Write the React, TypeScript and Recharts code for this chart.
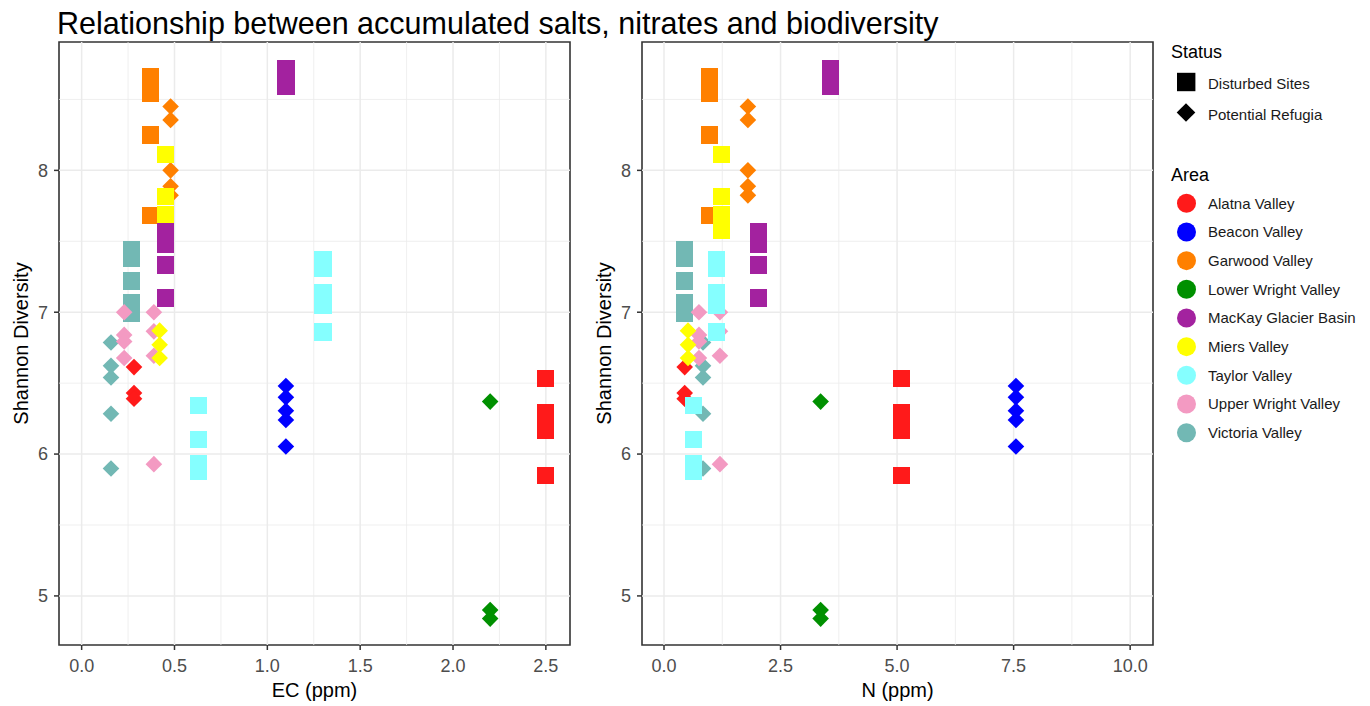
import React from 'react';
import { ScatterChart, Scatter, XAxis, YAxis, ReferenceLine, ReferenceArea } from 'recharts';

const chartTitle = 'Relationship between accumulated salts, nitrates and biodiversity';
const areaNames = ['Alatna Valley', 'Beacon Valley', 'Garwood Valley', 'Lower Wright Valley', 'MacKay Glacier Basin', 'Miers Valley', 'Taylor Valley', 'Upper Wright Valley', 'Victoria Valley'];
const areaColors = ['#FF1A1A', '#0000FF', '#FF8000', '#009000', '#A3229F', '#FFFF00', '#85FFFF', '#F39AC2', '#72B8B4'];
const statusNames = ['Disturbed Sites', 'Potential Refugia'];

// per-site values, listed in drawing order (area index, status index 0 = disturbed, 1 = refugia)
const siteArea = [
  8, 8, 8, 8, 8,
  8, 8, 8, 8, 8,
  7, 7, 7, 7, 7, 7, 7, 7,
  0, 0, 0,
  0, 0, 0, 0,
  2, 2, 2, 2,
  2, 2, 2, 2, 2,
  5, 5, 5, 5,
  5, 5, 5,
  4, 4, 4, 4, 4, 4, 4,
  6, 6, 6, 6, 6, 6, 6, 6, 6,
  1, 1, 1, 1, 1,
  3, 3, 3,
];
const siteStatus = [
  0, 0, 0, 0, 0,
  1, 1, 1, 1, 1,
  1, 1, 1, 1, 1, 1, 1, 1,
  1, 1, 1,
  0, 0, 0, 0,
  0, 0, 0, 0,
  1, 1, 1, 1, 1,
  0, 0, 0, 0,
  1, 1, 1,
  0, 0, 0, 0, 0, 0, 0,
  0, 0, 0, 0, 0, 0, 0, 0, 0,
  1, 1, 1, 1, 1,
  1, 1, 1,
];
const siteEC = [
  0.27, 0.27, 0.27, 0.27, 0.27,
  0.158, 0.158, 0.158, 0.158, 0.158,
  0.229, 0.229, 0.229, 0.229, 0.389, 0.389, 0.389, 0.389,
  0.282, 0.282, 0.282,
  2.5, 2.5, 2.5, 2.5,
  0.372, 0.372, 0.372, 0.372,
  0.479, 0.479, 0.479, 0.479, 0.479,
  0.45, 0.45, 0.45, 0.45,
  0.42, 0.42, 0.42,
  0.45, 0.45, 0.45, 0.45, 1.1, 1.1, 1.1,
  0.628, 0.628, 0.628, 0.628, 1.3, 1.3, 1.3, 1.3, 1.3,
  1.1, 1.1, 1.1, 1.1, 1.1,
  2.2, 2.2, 2.2,
];
const siteN = [
  0.44, 0.44, 0.44, 0.44, 0.44,
  0.837, 0.837, 0.837, 0.837, 0.837,
  0.75, 0.75, 0.75, 0.75, 1.2, 1.2, 1.2, 1.2,
  0.444, 0.444, 0.444,
  5.1, 5.1, 5.1, 5.1,
  0.975, 0.975, 0.975, 0.975,
  1.8, 1.8, 1.8, 1.8, 1.8,
  1.24, 1.24, 1.24, 1.24,
  0.515, 0.515, 0.515,
  2.03, 2.03, 2.03, 2.03, 3.57, 3.57, 3.57,
  0.627, 0.627, 0.627, 0.627, 1.13, 1.13, 1.13, 1.13, 1.13,
  7.55, 7.55, 7.55, 7.55, 7.55,
  3.36, 3.36, 3.36,
];
const siteShannon = [
  7.44, 7.38, 7.22, 7.065, 6.994,
  6.787, 6.622, 6.54, 6.284, 5.898,
  7.0, 6.84, 6.794, 6.677, 7.0, 6.865, 6.693, 5.929,
  6.613, 6.43, 6.39,
  6.53, 6.29, 6.17, 5.85,
  8.66, 8.54, 8.25, 7.68,
  8.45, 8.356, 8.0, 7.888, 7.824,
  8.11, 7.816, 7.69, 7.58,
  6.87, 6.77, 6.677,
  7.566, 7.475, 7.333, 7.1, 8.72, 8.655, 8.59,
  6.34, 6.1, 5.936, 5.88, 7.37, 7.31, 7.14, 7.05, 6.86,
  6.48, 6.4, 6.305, 6.24, 6.053,
  6.37, 4.9, 4.84,
];

const yTicks = [5, 6, 7, 8];
const yMinor = [5.5, 6.5, 7.5, 8.5];
const yDomain = [4.654, 8.905];
const ecTicks = [0, 0.5, 1, 1.5, 2, 2.5];
const ecMinor = [0.25, 0.75, 1.25, 1.75, 2.25];
const ecDomain = [-0.122, 2.63];
const nTicks = [0, 2.5, 5, 7.5, 10];
const nMinor = [1.25, 3.75, 6.25, 8.75];
const nDomain = [-0.472, 10.49];

const FONT = '"Liberation Sans", Arial, Helvetica, sans-serif';

const ecData = siteShannon.map((s, i) => ({ x: siteEC[i], y: s, area: siteArea[i], status: siteStatus[i] }));
const nData = siteShannon.map((s, i) => ({ x: siteN[i], y: s, area: siteArea[i], status: siteStatus[i] }));

const PointShape = (props: any) => {
  const { cx, cy, payload } = props;
  const fill = areaColors[payload.area];
  if (payload.status === 0) {
    return <rect x={cx - 8.6} y={cy - 8.6} width={17.2} height={17.2} fill={fill} shapeRendering="crispEdges" />;
  }
  const h = 8.3;
  return <polygon points={`${cx},${cy - h} ${cx + h},${cy} ${cx},${cy + h} ${cx - h},${cy}`} fill={fill} />;
};

function Panel(props: any) {
  const { data, xDomain, xTicks, xMinor, xLabel, fmt } = props;
  const tickStyle = { fill: '#4D4D4D', fontSize: 18, fontFamily: FONT };
  return (
    <ScatterChart width={580} height={706} margin={{ top: 42, right: 10, bottom: 0, left: 0 }}>
      <XAxis
        type="number"
        dataKey="x"
        domain={xDomain}
        ticks={xTicks}
        allowDataOverflow
        tickFormatter={fmt}
        height={61}
        axisLine={false}
        tickLine={{ stroke: '#333333', strokeWidth: 1.5 }}
        tickSize={5}
        tickMargin={9}
        tick={tickStyle}
        interval={0}
        label={{ value: xLabel, position: 'insideBottom', offset: 9, style: { fontSize: 20, fill: '#000', fontFamily: FONT } }}
      />
      <YAxis
        type="number"
        dataKey="y"
        domain={yDomain}
        ticks={yTicks}
        allowDataOverflow
        width={59}
        axisLine={false}
        tickLine={{ stroke: '#333333', strokeWidth: 1.5 }}
        tickSize={5}
        tickMargin={6}
        tick={tickStyle}
        interval={0}
        label={{ value: 'Shannon Diversity', angle: -90, position: 'insideLeft', offset: 21, style: { fontSize: 20, fill: '#000', fontFamily: FONT, textAnchor: 'middle' } }}
      />
      {xMinor.map((v: number) => (
        <ReferenceLine key={'xm' + v} x={v} stroke="#EBEBEB" strokeWidth={0.8} />
      ))}
      {yMinor.map((v: number) => (
        <ReferenceLine key={'ym' + v} y={v} stroke="#EBEBEB" strokeWidth={0.8} />
      ))}
      {xTicks.map((v: number) => (
        <ReferenceLine key={'xM' + v} x={v} stroke="#EBEBEB" strokeWidth={1.5} />
      ))}
      {yTicks.map((v: number) => (
        <ReferenceLine key={'yM' + v} y={v} stroke="#EBEBEB" strokeWidth={1.5} />
      ))}
      <Scatter data={data} shape={PointShape} isAnimationActive={false} />
      <ReferenceArea x1={xDomain[0]} x2={xDomain[1]} y1={yDomain[0]} y2={yDomain[1]} fill="none" fillOpacity={0} stroke="#333333" strokeWidth={1.6} ifOverflow="visible" />
    </ScatterChart>
  );
}

function Legend() {
  const lx = 1171;
  return (
    <svg width={1370} height={706} style={{ position: 'absolute', left: 0, top: 0, pointerEvents: 'none' }}>
      <text x={57} y={34} fontSize={30.5} fontFamily={FONT} fill="#000">{chartTitle}</text>
      <text x={lx} y={58} fontSize={18} fontFamily={FONT} fill="#000">Status</text>
      {statusNames.map((name, i) => {
        const cy = 82 + i * 30.5;
        return (
          <g key={name}>
            {i === 0 ? (
              <rect x={1177} y={cy - 9.2} width={18.4} height={18.4} fill="#000" />
            ) : (
              <polygon points={`1186,${cy - 9.3} 1195.3,${cy} 1186,${cy + 9.3} 1176.7,${cy}`} fill="#000" />
            )}
            <text x={1208} y={cy + 7} fontSize={15} fontFamily={FONT} fill="#1A1A1A">{name}</text>
          </g>
        );
      })}
      <text x={lx} y={180.5} fontSize={18} fontFamily={FONT} fill="#000">Area</text>
      {areaNames.map((name, i) => {
        const cy = 203.3 + i * 28.67;
        return (
          <g key={name}>
            <circle cx={1186.5} cy={cy} r={9.5} fill={areaColors[i]} />
            <text x={1208} y={cy + 5.4} fontSize={15} fontFamily={FONT} fill="#1A1A1A">{name}</text>
          </g>
        );
      })}
    </svg>
  );
}

export default function App() {
  return (
    <div style={{ position: 'absolute', left: 0, top: 0, width: 1370, height: 706, background: '#fff', fontFamily: FONT }}>
      <div style={{ position: 'absolute', left: 0, top: 0 }}>
        <Panel data={ecData} xDomain={ecDomain} xTicks={ecTicks} xMinor={ecMinor} xLabel="EC (ppm)" fmt={(v: number) => v.toFixed(1)} />
      </div>
      <div style={{ position: 'absolute', left: 583, top: 0 }}>
        <Panel data={nData} xDomain={nDomain} xTicks={nTicks} xMinor={nMinor} xLabel="N (ppm)" fmt={(v: number) => v.toFixed(1)} />
      </div>
      <Legend />
    </div>
  );
}
